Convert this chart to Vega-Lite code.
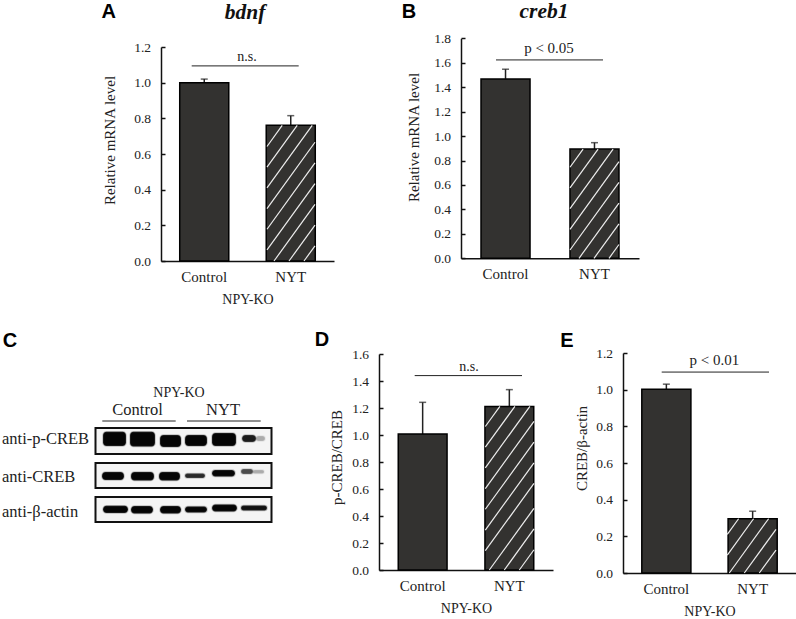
{
"$schema":"https://vega.github.io/schema/vega-lite/v6.json",
"padding":0,
"background":"white",
"config":{"view":{"stroke":null},"font":"Liberation Serif",
"axisY":{"domainWidth":1.5,"domainColor":"#111","tickWidth":1.5,"tickColor":"#111","tickSize":-4,"labelFont":"Liberation Serif","labelFontSize":13.5,"labelColor":"#222","labelPadding":14.5,"grid":false,"titleFont":"Liberation Serif","titleFontSize":15,"titleFontWeight":"normal","titleColor":"#222","format":".1f"},
"axisX":{"domainWidth":1.5,"domainColor":"#111","ticks":false,"labelAngle":0,"labelFont":"Liberation Serif","labelFontSize":15,"labelColor":"#222","labelPadding":8,"grid":false,"titleFont":"Liberation Serif","titleFontSize":14,"titleFontWeight":"normal","titleColor":"#222","titlePadding":8}},
"vconcat":[
{"hconcat":[
{"width":34,"height":10,"data":{"values":[{"a":1}]},"mark":{"type":"point","opacity":0},"encoding":{}},
{"width":173,"height":261,"resolve":{"scale":{"x":"independent"},"axis":{"y":"independent"}},"layer":[
{"data":{"values":[{"group":"Control","value":1.0,"top":1.02},{"group":"NYT","value":0.761,"top":0.815}]},
"resolve":{"axis":{"y":"independent"}},
"encoding":{"x":{"field":"group","type":"nominal","scale":{"domain":["Control","NYT"],"paddingInner":0.433,"paddingOuter":0.2165},"axis":{"title":"NPY-KO"}}},
"layer":[
{"mark":{"type":"rule","stroke":"#222","strokeWidth":1.5},"encoding":{"y":{"field":"value","type":"quantitative","scale":{"domain":[0,1.2],"range":[261,47],"nice":false},"axis":{"title":"Relative mRNA level","values":[0,0.2,0.4,0.6,0.8,1.0,1.2],"titleY":140,"titleX":-44}},"y2":{"field":"top"}}},
{"mark":{"type":"tick","orient":"horizontal","size":7,"thickness":1.5,"color":"#222"},"encoding":{"y":{"field":"top","type":"quantitative","axis":null}}},
{"mark":{"type":"bar","fill":"#333230","stroke":"#000","strokeWidth":1.5},"encoding":{"y":{"field":"value","type":"quantitative","axis":null}}}
]},
{"data":{"values":[{"x":143,"y":0,"x2":154,"y2":0.085},{"x":128,"y":0,"x2":154,"y2":0.201},{"x":113,"y":0,"x2":154,"y2":0.317},{"x":106,"y":0.062,"x2":154,"y2":0.434},{"x":106,"y":0.178,"x2":154,"y2":0.55},{"x":106,"y":0.294,"x2":154,"y2":0.666},{"x":106,"y":0.41,"x2":151.2,"y2":0.76},{"x":106,"y":0.526,"x2":136.2,"y2":0.76},{"x":106,"y":0.642,"x2":121.2,"y2":0.76}]},
"mark":{"type":"rule","stroke":"#eee","strokeWidth":1.2},
"encoding":{"x":{"field":"x","type":"quantitative","scale":{"domain":[0,173],"nice":false},"axis":null},"x2":{"field":"x2"},"y":{"field":"y","type":"quantitative","axis":null},"y2":{"field":"y2"}}},
{"data":{"values":[{"x":30.7,"x2":137.7,"y":1.094}]},"mark":{"type":"rule","stroke":"#222","strokeWidth":1},
"encoding":{"x":{"field":"x","type":"quantitative","scale":{"domain":[0,173],"nice":false},"axis":null},"x2":{"field":"x2"},"y":{"field":"y","type":"quantitative","axis":null}}},
{"data":{"values":[{"x":86,"y":1.144,"label":"n.s."}]},"mark":{"type":"text","font":"Liberation Serif","fontSize":14,"color":"#222"},
"encoding":{"x":{"field":"x","type":"quantitative","scale":{"domain":[0,173],"nice":false},"axis":null},"y":{"field":"y","type":"quantitative","axis":null},"text":{"field":"label"}}},
{"data":{"values":[{"x":84,"y":1.391,"label":"bdnf"}]},"mark":{"type":"text","font":"Liberation Serif","fontSize":21.5,"fontWeight":"bold","fontStyle":"italic","color":"#111"},
"encoding":{"x":{"field":"x","type":"quantitative","scale":{"domain":[0,173],"nice":false},"axis":null},"y":{"field":"y","type":"quantitative","axis":null},"text":{"field":"label"}}},
{"data":{"values":[{"x":-52.3,"y":1.397,"label":"A"}]},"mark":{"type":"text","font":"Liberation Sans","fontSize":20,"fontWeight":"bold","color":"#000"},
"encoding":{"x":{"field":"x","type":"quantitative","scale":{"domain":[0,173],"nice":false},"axis":null},"y":{"field":"y","type":"quantitative","axis":null},"text":{"field":"label"}}}
]},
{"width":178,"height":258.3,"resolve":{"scale":{"x":"independent"},"axis":{"y":"independent"}},"layer":[
{"data":{"values":[{"group":"Control","value":1.468,"top":1.547},{"group":"NYT","value":0.894,"top":0.946}]},
"resolve":{"axis":{"y":"independent"}},
"encoding":{"x":{"field":"group","type":"nominal","scale":{"domain":["Control","NYT"],"paddingInner":0.449,"paddingOuter":0.225},"axis":{"title":null}}},
"layer":[
{"mark":{"type":"rule","stroke":"#222","strokeWidth":1.5},"encoding":{"y":{"field":"value","type":"quantitative","scale":{"domain":[0,1.8],"range":[258.3,38.3],"nice":false},"axis":{"title":"Relative mRNA level","values":[0,0.2,0.4,0.6,0.8,1.0,1.2,1.4,1.6,1.8],"titleY":137,"titleX":-40}},"y2":{"field":"top"}}},
{"mark":{"type":"tick","orient":"horizontal","size":7,"thickness":1.5,"color":"#222"},"encoding":{"y":{"field":"top","type":"quantitative","axis":null}}},
{"mark":{"type":"bar","fill":"#333230","stroke":"#000","strokeWidth":1.5},"encoding":{"y":{"field":"value","type":"quantitative","axis":null}}}
]},
{"data":{"values":[{"x":148,"y":0,"x2":158,"y2":0.113},{"x":133,"y":0,"x2":158,"y2":0.282},{"x":118,"y":0,"x2":158,"y2":0.452},{"x":109,"y":0.068,"x2":158,"y2":0.621},{"x":109,"y":0.237,"x2":158,"y2":0.791},{"x":109,"y":0.407,"x2":152.1,"y2":0.894},{"x":109,"y":0.576,"x2":137.1,"y2":0.894},{"x":109,"y":0.745,"x2":122.1,"y2":0.894}]},
"mark":{"type":"rule","stroke":"#eee","strokeWidth":1.2},
"encoding":{"x":{"field":"x","type":"quantitative","scale":{"domain":[0,178],"nice":false},"axis":null},"x2":{"field":"x2"},"y":{"field":"y","type":"quantitative","axis":null},"y2":{"field":"y2"}}},
{"data":{"values":[{"x":35,"x2":142,"y":1.623}]},"mark":{"type":"rule","stroke":"#222","strokeWidth":1},
"encoding":{"x":{"field":"x","type":"quantitative","scale":{"domain":[0,178],"nice":false},"axis":null},"x2":{"field":"x2"},"y":{"field":"y","type":"quantitative","axis":null}}},
{"data":{"values":[{"x":88,"y":1.721,"label":"p < 0.05"}]},"mark":{"type":"text","font":"Liberation Serif","fontSize":15,"color":"#222"},
"encoding":{"x":{"field":"x","type":"quantitative","scale":{"domain":[0,178],"nice":false},"axis":null},"y":{"field":"y","type":"quantitative","axis":null},"text":{"field":"label"}}},
{"data":{"values":[{"x":83,"y":2.016,"label":"creb1"}]},"mark":{"type":"text","font":"Liberation Serif","fontSize":21.5,"fontWeight":"bold","fontStyle":"italic","color":"#111"},
"encoding":{"x":{"field":"x","type":"quantitative","scale":{"domain":[0,178],"nice":false},"axis":null},"y":{"field":"y","type":"quantitative","axis":null},"text":{"field":"label"}}},
{"data":{"values":[{"x":-52,"y":2.016,"label":"B"}]},"mark":{"type":"text","font":"Liberation Sans","fontSize":20,"fontWeight":"bold","color":"#000"},
"encoding":{"x":{"field":"x","type":"quantitative","scale":{"domain":[0,178],"nice":false},"axis":null},"y":{"field":"y","type":"quantitative","axis":null},"text":{"field":"label"}}}
]}
],"spacing":127,"bounds":"flush"},
{"hconcat":[
{"width":309,"height":220,"layer":[
{"data":{"values":[{"x":95.5,"x2":271.5,"y":108,"y2":134},{"x":95.5,"x2":271.5,"y":143,"y2":168},{"x":95.5,"x2":271.5,"y":177,"y2":202}]},
"mark":{"type":"rect","fill":"#f4f4f4","stroke":"#111","strokeWidth":2},
"encoding":{"x":{"field":"x","type":"quantitative","scale":{"domain":[0,309],"nice":false},"axis":null},"x2":{"field":"x2"},"y":{"field":"y","type":"quantitative","scale":{"domain":[220,0],"nice":false},"axis":null},"y2":{"field":"y2"}}},
{"data":{"values":[
{"x":103,"x2":126,"y":111.7,"y2":126,"signal":1},{"x":130,"x2":155,"y":111.7,"y2":126.5,"signal":1},{"x":160,"x2":181,"y":115,"y2":127,"signal":1},{"x":185,"x2":207,"y":115,"y2":126,"signal":1},{"x":212,"x2":236,"y":113,"y2":126,"signal":1},{"x":242,"x2":256,"y":115,"y2":122,"signal":0.9},{"x":256,"x2":265,"y":116,"y2":121,"signal":0.3},
{"x":102,"x2":124,"y":152,"y2":160,"signal":1},{"x":131,"x2":154,"y":152,"y2":160.5,"signal":1},{"x":159,"x2":180,"y":152,"y2":160.5,"signal":1},{"x":185,"x2":205,"y":153.5,"y2":158,"signal":0.85},{"x":212,"x2":235,"y":150,"y2":156.5,"signal":1},{"x":241,"x2":253,"y":149,"y2":154,"signal":0.7},{"x":253,"x2":264,"y":150,"y2":153.5,"signal":0.3},
{"x":103,"x2":128,"y":185.7,"y2":193,"signal":1},{"x":131,"x2":153,"y":186,"y2":193.5,"signal":1},{"x":160,"x2":181,"y":186,"y2":193.5,"signal":1},{"x":185,"x2":207,"y":186.5,"y2":192.5,"signal":1},{"x":212,"x2":237,"y":184.5,"y2":191.5,"signal":1},{"x":241,"x2":267,"y":185.5,"y2":190.5,"signal":0.95}
]},
"mark":{"type":"rect","cornerRadius":3.5,"stroke":"#555","strokeWidth":1.5,"strokeOpacity":0.35},
"encoding":{"x":{"field":"x","type":"quantitative","axis":null},"x2":{"field":"x2"},"y":{"field":"y","type":"quantitative","axis":null},"y2":{"field":"y2"},"fill":{"value":"#050505"},"opacity":{"field":"signal","type":"quantitative","scale":{"domain":[0,1],"range":[0,1]},"legend":null}}},
{"data":{"values":[{"x":102.3,"x2":175.7,"y":101},{"x":187,"x2":260.7,"y":101}]},"mark":{"type":"rule","stroke":"#222","strokeWidth":1},
"encoding":{"x":{"field":"x","type":"quantitative","axis":null},"x2":{"field":"x2"},"y":{"field":"y","type":"quantitative","axis":null}}},
{"data":{"values":[{"x":2,"y":119,"label":"anti-p-CREB"},{"x":2,"y":157,"label":"anti-CREB"},{"x":2,"y":192,"label":"anti-β-actin"}]},"mark":{"type":"text","align":"left","font":"Liberation Serif","fontSize":16.5,"color":"#222"},
"encoding":{"x":{"field":"x","type":"quantitative","axis":null},"y":{"field":"y","type":"quantitative","axis":null},"text":{"field":"label"}}},
{"data":{"values":[{"x":137.5,"y":90,"label":"Control"},{"x":223,"y":90,"label":"NYT"}]},"mark":{"type":"text","font":"Liberation Serif","fontSize":16.5,"color":"#222"},
"encoding":{"x":{"field":"x","type":"quantitative","axis":null},"y":{"field":"y","type":"quantitative","axis":null},"text":{"field":"label"}}},
{"data":{"values":[{"x":179,"y":72.7,"label":"NPY-KO"}]},"mark":{"type":"text","font":"Liberation Serif","fontSize":14,"color":"#222"},
"encoding":{"x":{"field":"x","type":"quantitative","axis":null},"y":{"field":"y","type":"quantitative","axis":null},"text":{"field":"label"}}},
{"data":{"values":[{"x":10,"y":20.7,"label":"C"}]},"mark":{"type":"text","font":"Liberation Sans","fontSize":20,"fontWeight":"bold","color":"#000"},
"encoding":{"x":{"field":"x","type":"quantitative","axis":null},"y":{"field":"y","type":"quantitative","axis":null},"text":{"field":"label"}}}
]},
{"width":174,"height":250,"resolve":{"scale":{"x":"independent"},"axis":{"y":"independent"}},"layer":[
{"data":{"values":[{"group":"Control","value":1.007,"top":1.242},{"group":"NYT","value":1.212,"top":1.336}]},
"resolve":{"axis":{"y":"independent"}},
"encoding":{"x":{"field":"group","type":"nominal","scale":{"domain":["Control","NYT"],"paddingInner":0.437,"paddingOuter":0.222},"axis":{"title":"NPY-KO"}}},
"layer":[
{"mark":{"type":"rule","stroke":"#222","strokeWidth":1.5},"encoding":{"y":{"field":"value","type":"quantitative","scale":{"domain":[0,1.6],"range":[250,34],"nice":false},"axis":{"title":"p-CREB/CREB","values":[0,0.2,0.4,0.6,0.8,1.0,1.2,1.4,1.6],"titleY":137,"titleX":-35}},"y2":{"field":"top"}}},
{"mark":{"type":"tick","orient":"horizontal","size":7,"thickness":1.5,"color":"#222"},"encoding":{"y":{"field":"top","type":"quantitative","axis":null}}},
{"mark":{"type":"bar","fill":"#333230","stroke":"#000","strokeWidth":1.5},"encoding":{"y":{"field":"value","type":"quantitative","axis":null}}}
]},
{"data":{"values":[{"x":140.3,"y":0,"x2":155,"y2":0.15},{"x":125.3,"y":0,"x2":155,"y2":0.304},{"x":110.3,"y":0,"x2":155,"y2":0.457},{"x":106.3,"y":0.143,"x2":155,"y2":0.641},{"x":106.3,"y":0.296,"x2":155,"y2":0.794},{"x":106.3,"y":0.45,"x2":155,"y2":0.947},{"x":106.3,"y":0.603,"x2":155,"y2":1.101},{"x":106.3,"y":0.756,"x2":150.9,"y2":1.212},{"x":106.3,"y":0.91,"x2":135.9,"y2":1.212},{"x":106.3,"y":1.063,"x2":120.9,"y2":1.212}]},
"mark":{"type":"rule","stroke":"#eee","strokeWidth":1.2},
"encoding":{"x":{"field":"x","type":"quantitative","scale":{"domain":[0,174],"nice":false},"axis":null},"x2":{"field":"x2"},"y":{"field":"y","type":"quantitative","axis":null},"y2":{"field":"y2"}}},
{"data":{"values":[{"x":35.7,"x2":143,"y":1.44}]},"mark":{"type":"rule","stroke":"#222","strokeWidth":1},
"encoding":{"x":{"field":"x","type":"quantitative","scale":{"domain":[0,174],"nice":false},"axis":null},"x2":{"field":"x2"},"y":{"field":"y","type":"quantitative","axis":null}}},
{"data":{"values":[{"x":90,"y":1.506,"label":"n.s."}]},"mark":{"type":"text","font":"Liberation Serif","fontSize":14,"color":"#222"},
"encoding":{"x":{"field":"x","type":"quantitative","scale":{"domain":[0,174],"nice":false},"axis":null},"y":{"field":"y","type":"quantitative","axis":null},"text":{"field":"label"}}},
{"data":{"values":[{"x":-57,"y":1.704,"label":"D"}]},"mark":{"type":"text","font":"Liberation Sans","fontSize":20,"fontWeight":"bold","color":"#000"},
"encoding":{"x":{"field":"x","type":"quantitative","scale":{"domain":[0,174],"nice":false},"axis":null},"y":{"field":"y","type":"quantitative","axis":null},"text":{"field":"label"}}}
]},
{"width":173,"height":253,"resolve":{"scale":{"x":"independent"},"axis":{"y":"independent"}},"layer":[
{"data":{"values":[{"group":"Control","value":1.002,"top":1.03},{"group":"NYT","value":0.296,"top":0.337}]},
"resolve":{"axis":{"y":"independent"}},
"encoding":{"x":{"field":"group","type":"nominal","scale":{"domain":["Control","NYT"],"paddingInner":0.431,"paddingOuter":0.218},"axis":{"title":"NPY-KO"}}},
"layer":[
{"mark":{"type":"rule","stroke":"#222","strokeWidth":1.5},"encoding":{"y":{"field":"value","type":"quantitative","scale":{"domain":[0,1.2],"range":[253,33],"nice":false},"axis":{"title":"CREB/β-actin","values":[0,0.2,0.4,0.6,0.8,1.0,1.2],"titleY":128,"titleX":-34}},"y2":{"field":"top"}}},
{"mark":{"type":"tick","orient":"horizontal","size":7,"thickness":1.5,"color":"#222"},"encoding":{"y":{"field":"top","type":"quantitative","axis":null}}},
{"mark":{"type":"bar","fill":"#333230","stroke":"#000","strokeWidth":1.5},"encoding":{"y":{"field":"value","type":"quantitative","axis":null}}}
]},
{"data":{"values":[{"x":136.3,"y":0,"x2":153,"y2":0.125},{"x":121.3,"y":0,"x2":153,"y2":0.238},{"x":106.3,"y":0,"x2":145.6,"y2":0.296},{"x":104.3,"y":0.098,"x2":130.6,"y2":0.296},{"x":104.3,"y":0.211,"x2":115.6,"y2":0.296}]},
"mark":{"type":"rule","stroke":"#eee","strokeWidth":1.2},
"encoding":{"x":{"field":"x","type":"quantitative","scale":{"domain":[0,173],"nice":false},"axis":null},"x2":{"field":"x2"},"y":{"field":"y","type":"quantitative","axis":null},"y2":{"field":"y2"}}},
{"data":{"values":[{"x":38.7,"x2":146,"y":1.096}]},"mark":{"type":"rule","stroke":"#222","strokeWidth":1},
"encoding":{"x":{"field":"x","type":"quantitative","scale":{"domain":[0,173],"nice":false},"axis":null},"x2":{"field":"x2"},"y":{"field":"y","type":"quantitative","axis":null}}},
{"data":{"values":[{"x":91.3,"y":1.162,"label":"p < 0.01"}]},"mark":{"type":"text","font":"Liberation Serif","fontSize":15,"color":"#222"},
"encoding":{"x":{"field":"x","type":"quantitative","scale":{"domain":[0,173],"nice":false},"axis":null},"y":{"field":"y","type":"quantitative","axis":null},"text":{"field":"label"}}},
{"data":{"values":[{"x":-56,"y":1.266,"label":"E"}]},"mark":{"type":"text","font":"Liberation Sans","fontSize":20,"fontWeight":"bold","color":"#000"},
"encoding":{"x":{"field":"x","type":"quantitative","scale":{"domain":[0,173],"nice":false},"axis":null},"y":{"field":"y","type":"quantitative","axis":null},"text":{"field":"label"}}}
]}
],"spacing":70,"bounds":"flush"}
],"spacing":14
}
